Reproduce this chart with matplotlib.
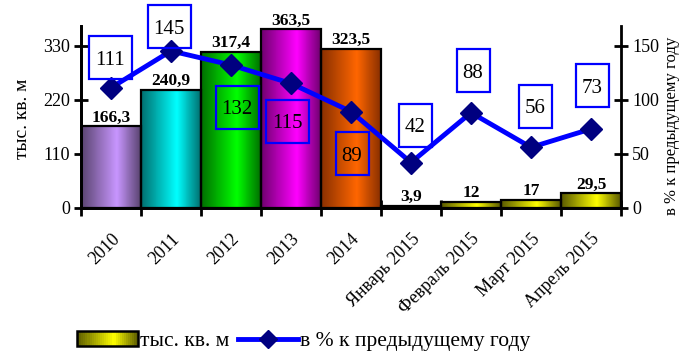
import matplotlib
matplotlib.use("Agg")
import matplotlib.pyplot as plt
import numpy as np
from matplotlib.colors import LinearSegmentedColormap
from matplotlib.patches import Rectangle
from matplotlib.lines import Line2D
from matplotlib.legend_handler import HandlerBase
from matplotlib.transforms import ScaledTranslation

plt.rcParams['font.family'] = ['Liberation Serif', 'DejaVu Serif']

categories = ["2010", "2011", "2012", "2013", "2014", "Январь 2015",
              "Февраль 2015", "Март 2015", "Апрель 2015"]
area = [166.3, 240.9, 317.4, 363.5, 323.5, 3.9, 12, 17, 29.5]
area_labels = ["166,3", "240,9", "317,4", "363,5", "323,5", "3,9", "12", "17", "29,5"]
pct = [111, 145, 132, 115, 89, 42, 88, 56, 73]
# label box offsets from the point, in pixels (+ = above)
pct_label_dy = [30, 24, -42, -38, -42, 37, 42, 41, 43]
pct_label_dx = [-1, -2, 6, -4, 1, 4, 2, 4, 1]

bar_colors = ["#C896FF", "#00FFFF", "#00FF00", "#FF00FF", "#FF6600",
              "#FFFF00", "#FFFF00", "#FFFF00", "#FFFF00"]
dark_colors = ["#5A4470", "#007070", "#007000", "#700070", "#8A3000",
               "#5A5A00", "#5A5A00", "#5A5A00", "#5A5A00"]

W, H = 679, 354
DPI = 100
fig = plt.figure(figsize=(W / DPI, H / DPI), dpi=DPI)
ax = fig.add_axes([81 / W, 1 - 208 / H, (621 - 81) / W, (208 - 26) / H])
ax2 = ax.twinx()

x = np.arange(len(categories))
grad = np.linspace(0, 1, 64)[None, :]
for i, (v, c, d) in enumerate(zip(area, bar_colors, dark_colors)):
    cmap = LinearSegmentedColormap.from_list(
        "g%d" % i, [(0, d), (0.6, c), (1, d)])
    ax.imshow(grad, cmap=cmap, extent=[i - 0.5, i + 0.5, 0, v],
              aspect='auto', zorder=2, interpolation='bilinear')
    ax.add_patch(Rectangle((i - 0.5, 0), 1, v, facecolor='none',
                           edgecolor='black', lw=1.6, zorder=3))
    ax.text(i, v + 1.5, area_labels[i], ha='center', va='bottom',
            fontsize=12.5, fontweight='bold', zorder=6, clip_on=False)

ax.set_xlim(-0.5, len(categories) - 0.5)
ax.set_ylim(0, 370)
ax.set_yticks([0, 110, 220, 330])
ax.set_xticks(x)
ax.set_xticklabels(categories, rotation=45, ha='right', rotation_mode='anchor',
                   fontsize=13)
shift = ScaledTranslation(-8 / DPI, 0, fig.dpi_scale_trans)
for lbl in ax.get_xticklabels():
    lbl.set_transform(lbl.get_transform() + shift)
ax.set_xticks(np.arange(-0.5, len(categories), 1), minor=True)
ax.tick_params(axis='x', which='major', length=0, pad=16)
ax.tick_params(axis='x', which='minor', length=11, width=2, direction='inout')
ax.tick_params(axis='y', length=10, width=2, direction='inout', labelsize=13, pad=3)
ax.set_ylabel("тыс. кв. м", fontsize=14)
ax.yaxis.set_label_coords((31 - 81) / 540, (208 - 119) / 182)

ax2.set_ylim(0, 168)
ax2.set_yticks([0, 50, 100, 150])
ax2.tick_params(axis='y', length=10, width=2, direction='inout', labelsize=13, pad=3)
ax2.set_ylabel("в % к предыдущему году", fontsize=12)
ax2.yaxis.set_label_coords((664 - 81) / 540, (208 - 126) / 182)

for a in (ax, ax2):
    a.spines['top'].set_visible(False)
    for s in ('left', 'right', 'bottom'):
        a.spines[s].set_linewidth(2)
ax.spines['right'].set_visible(False)

ax2.plot(x, pct, color='#0000FF', lw=3.5, marker='D', markersize=11,
         markerfacecolor='#000080', markeredgecolor='#000080', zorder=5)
for i, (p, dy, dx) in enumerate(zip(pct, pct_label_dy, pct_label_dx)):
    txt = str(p)
    bw = (10 * len(txt) + 13) / DPI
    bh = 43 / DPI
    tr = fig.dpi_scale_trans + ScaledTranslation(i, p, ax2.transData)
    ax2.add_patch(Rectangle((dx / DPI - bw / 2, dy / DPI - bh / 2), bw, bh,
                            transform=tr, facecolor='none', edgecolor='#0000FF',
                            lw=1.6, zorder=7, clip_on=False))
    ax2.text(dx / DPI, dy / DPI, txt, transform=tr, ha='center', va='center_baseline',
             fontsize=15, zorder=8)

ax.set_zorder(1)
ax2.set_zorder(2)
ax2.patch.set_visible(False)


class GradHandler(HandlerBase):
    def create_artists(self, legend, orig_handle, xdescent, ydescent,
                       width, height, fontsize, trans):
        arts = []
        n = 30
        cmap = LinearSegmentedColormap.from_list(
            "lg", [(0, "#5A5A00"), (0.6, "#FFFF00"), (1, "#5A5A00")])
        for k in range(n):
            arts.append(Rectangle((-xdescent + width * k / n, -ydescent),
                                  width / n + 0.3, height,
                                  facecolor=cmap((k + 0.5) / n), edgecolor='none',
                                  transform=trans))
        arts.append(Rectangle((-xdescent, -ydescent), width, height, facecolor='none',
                              edgecolor='black', lw=1.8, transform=trans))
        return arts


bar_handle = Rectangle((0, 0), 1, 1)
line_handle = Line2D([], [], color='#0000FF', lw=3.5, marker='D', markersize=9,
                     markerfacecolor='#000080', markeredgecolor='#000080')
fig.legend([bar_handle, line_handle], ["тыс. кв. м", "в % к предыдущему году"],
           handler_map={Rectangle: GradHandler()},
           loc='center', bbox_to_anchor=(304 / W, 1 - 341 / H), ncol=2,
           frameon=False, fontsize=15.5, handlelength=2.8, handletextpad=0.1,
           columnspacing=0.4)

fig.savefig("out.png", dpi=DPI)
